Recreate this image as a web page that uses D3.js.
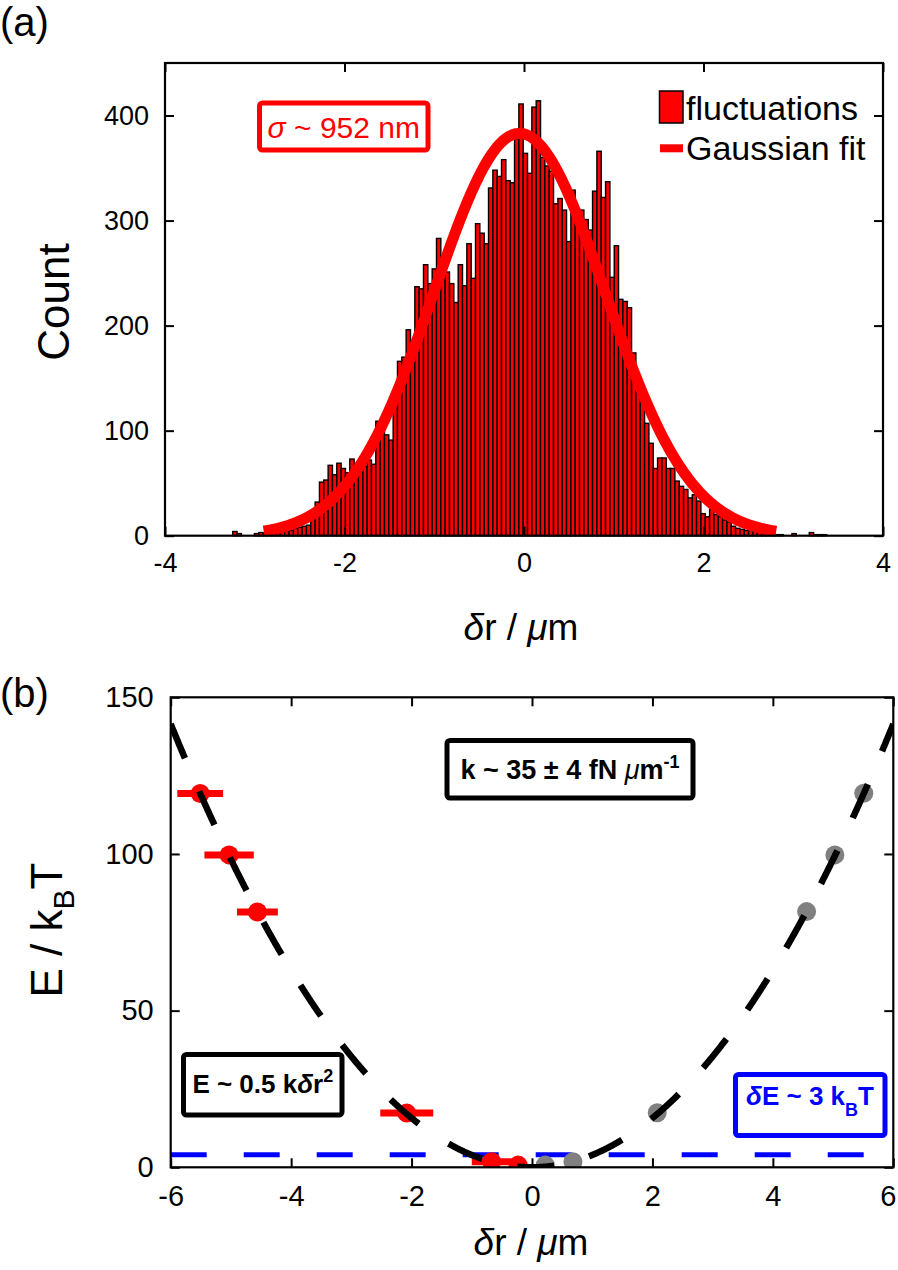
<!DOCTYPE html>
<html><head><meta charset="utf-8">
<script src="https://cdn.jsdelivr.net/npm/d3@7"></script>
<style>
body{margin:0;background:#fff}
svg{display:block}
text{font-family:"Liberation Sans",Arial,Helvetica,sans-serif}
</style>
</head><body>
<svg id="c" width="898" height="1270"></svg>
<script>
// ---------- Panel (a) data ----------
const binStart = -3.39;
const binWidth = 0.0483;
const counts = [0,0,0,4,2,0,0,0,2,3,
  2,3,3,4,4,5,5,7,8,9,
  10,20,32,51,53,67,58,69,64,60,
  73,65,62,66,72,68,109,100,96,91,
  125,166,170,196,180,237,235,258,240,254,
  283,262,251,240,222,258,238,278,245,297,
  288,278,331,348,342,358,338,336,378,411,
  364,345,408,414,360,352,347,316,321,310,
  280,329,300,310,301,291,328,366,322,337,
  246,276,225,223,217,174,150,130,107,88,
  64,74,74,64,64,52,47,44,36,39,
  33,21,18,25,20,18,15,13,9,7,
  6,5,5,4,3,2,2,1,1,1,
  0,0,2,0,0,0,3,1,1,1];
const gaussAmp = 383, gaussMu = -0.05, gaussSigma = 0.952;
const gaussRange = [-2.9, 2.81];
const xTicksA = [-4,-2,0,2,4];
const yTicksA = [0,100,200,300,400];
const legendLabels = ["fluctuations","Gaussian fit"];

// ---------- Panel (b) data ----------
const redX   = [-5.51,-5.03,-4.56,-2.08,-0.67,-0.23];
const redY   = [119.3, 99.7, 81.5, 17.3, 1.8, 0.7];
const redErr = [0.38, 0.41, 0.34, 0.44, 0.33, 0.12];
const grayX  = [0.22, 0.68, 2.08, 4.56, 5.03, 5.51];
const grayY  = [0.7, 1.8, 17.4, 81.6, 99.7, 119.4];
const fitCoef = 3.93;       // E = fitCoef * dr^2
const fitRange = [-6, 6];
const thresholdE = 4;
const xTicksB = [-6,-4,-2,0,2,4,6];
const yTicksB = [0,50,100,150];

const svg = d3.select("#c");
const RED = "#ff0000";

function frame(g, x, y, xt, yt, fs, padX, padY){
  const [x0,x1] = x.range(), [y0,y1] = y.range();
  g.append("g").attr("transform",`translate(0,${y0})`)
    .call(d3.axisBottom(x).tickValues(xt).tickSizeInner(-9).tickSizeOuter(0).tickPadding(padX).tickFormat(d=>String(d)))
    .call(a=>{a.select(".domain").remove();a.selectAll("line").attr("stroke-width",2);a.selectAll("text").attr("font-size",fs).attr("fill","#000");
      // keep the last label inside the page
      a.selectAll(".tick").filter(d=>x(d)>888).select("text").attr("text-anchor","end").attr("x",d=>896-x(d));
    });
  g.append("g").attr("transform",`translate(0,${y1})`)
    .call(d3.axisTop(x).tickValues(xt).tickSizeInner(-9).tickSizeOuter(0).tickFormat(""))
    .call(a=>{a.select(".domain").remove();a.selectAll("line").attr("stroke-width",2);});
  g.append("g").attr("transform",`translate(${x0},0)`)
    .call(d3.axisLeft(y).tickValues(yt).tickSizeInner(-9).tickSizeOuter(0).tickPadding(padY).tickFormat(d=>String(d)))
    .call(a=>{a.select(".domain").remove();a.selectAll("line").attr("stroke-width",2);a.selectAll("text").attr("font-size",fs).attr("fill","#000");});
  g.append("g").attr("transform",`translate(${x1},0)`)
    .call(d3.axisRight(y).tickValues(yt).tickSizeInner(-9).tickSizeOuter(0).tickFormat(""))
    .call(a=>{a.select(".domain").remove();a.selectAll("line").attr("stroke-width",2);});
  g.append("rect").attr("x",x0).attr("y",y1).attr("width",x1-x0).attr("height",y0-y1)
    .attr("fill","none").attr("stroke","#000").attr("stroke-width",2.2);
}

// ================= Panel (a) =================
const xa = d3.scaleLinear().domain([-4,4]).range([165,883]);
const ya = d3.scaleLinear().domain([0,450]).range([535.7,63]);
const ga = svg.append("g");

ga.append("g").selectAll("rect").data(counts.map((c,i)=>({c,i})).filter(d=>d.c>0)).join("rect")
  .attr("x",d=>xa(binStart+d.i*binWidth))
  .attr("width",d=>xa(binStart+(d.i+1)*binWidth)-xa(binStart+d.i*binWidth))
  .attr("y",d=>ya(d.c)).attr("height",d=>ya(0)-ya(d.c))
  .attr("fill",RED).attr("stroke","#000").attr("stroke-width",1.4);

const gx = d3.range(gaussRange[0], gaussRange[1]+1e-9, 0.01);
ga.append("path").datum(gx)
  .attr("d", d3.line().x(v=>xa(v)).y(v=>ya(gaussAmp*Math.exp(-((v-gaussMu)**2)/(2*gaussSigma*gaussSigma)))))
  .attr("fill","none").attr("stroke",RED).attr("stroke-width",11);

// sigma box
ga.append("rect").attr("x",259.5).attr("y",103).attr("width",168.5).attr("height",47).attr("rx",3)
  .attr("fill","#fff").attr("stroke",RED).attr("stroke-width",5);
const st = ga.append("text").attr("x",343.8).attr("y",137.5).attr("text-anchor","middle")
  .attr("font-size",30).attr("fill",RED);
st.append("tspan").attr("font-style","italic").text("σ");
st.append("tspan").text(" ~ 952 nm");

// legend
ga.append("rect").attr("x",659.5).attr("y",91).attr("width",23.5).attr("height",32)
  .attr("fill",RED).attr("stroke","#000").attr("stroke-width",1.5);
ga.append("line").attr("x1",660).attr("x2",683).attr("y1",148.3).attr("y2",148.3)
  .attr("stroke",RED).attr("stroke-width",8);
ga.append("text").attr("x",686).attr("y",119.5).attr("font-size",34).text(legendLabels[0]);
ga.append("text").attr("x",686).attr("y",159.5).attr("font-size",34).text(legendLabels[1]);

frame(ga, xa, ya, xTicksA, yTicksA, 27, 17.5, 16);

// labels
ga.append("text").attr("transform","translate(69,302) rotate(-90)").attr("text-anchor","middle")
  .attr("font-size",44).text("Count");
const xla = ga.append("text").attr("x",521).attr("y",640).attr("text-anchor","middle").attr("font-size",37);
xla.append("tspan").attr("font-style","italic").text("δ");
xla.append("tspan").text("r / ");
xla.append("tspan").attr("font-style","italic").text("μ");
xla.append("tspan").text("m");
svg.append("text").attr("x",0).attr("y",36).attr("font-size",40).text("(a)");

// ================= Panel (b) =================
const xb = d3.scaleLinear().domain([-6,6]).range([170.7,893.3]);
const yb = d3.scaleLinear().domain([0,150]).range([1167.3,697.3]);
const gb = svg.append("g");
const clipId = "clipb";
gb.append("clipPath").attr("id",clipId).append("rect")
  .attr("x",xb(-6)).attr("y",yb(150)).attr("width",xb(6)-xb(-6)).attr("height",yb(0)-yb(150));
const plot = gb.append("g").attr("clip-path",`url(#${clipId})`);

// threshold line
plot.append("line").attr("x1",xb(-6)).attr("x2",xb(6)).attr("y1",yb(thresholdE)).attr("y2",yb(thresholdE))
  .attr("stroke","#0000ff").attr("stroke-width",5).attr("stroke-dasharray","36,37");

// error bars
const redData = redX.map((x,i)=>({x,y:redY[i],e:redErr[i]}));
plot.append("g").selectAll("line").data(redData).join("line")
  .attr("x1",d=>xb(d.x-d.e)).attr("x2",d=>xb(d.x+d.e)).attr("y1",d=>yb(d.y)).attr("y2",d=>yb(d.y))
  .attr("stroke",RED).attr("stroke-width",7);
plot.append("g").selectAll("circle").data(redData).join("circle")
  .attr("cx",d=>xb(d.x)).attr("cy",d=>yb(d.y)).attr("r",9.5).attr("fill",RED);
plot.append("g").selectAll("circle").data(grayX.map((x,i)=>({x,y:grayY[i]}))).join("circle")
  .attr("cx",d=>xb(d.x)).attr("cy",d=>yb(d.y)).attr("r",9.5).attr("fill","#808080");

// fit curve
const fx = d3.range(fitRange[0], fitRange[1]+1e-9, 0.01);
plot.append("path").datum(fx)
  .attr("d", d3.line().x(v=>xb(v)).y(v=>yb(fitCoef*v*v)))
  .attr("fill","none").attr("stroke","#000").attr("stroke-width",6.5).attr("stroke-dasharray","37,36");

// annotation boxes
function box(g, x, y, w, h, color){
  g.append("rect").attr("x",x).attr("y",y).attr("width",w).attr("height",h).attr("rx",3)
    .attr("fill","#fff").attr("stroke",color).attr("stroke-width",5);
}
box(gb, 447, 740.5, 246, 57.5, "#000");
const t1 = gb.append("text").attr("x",570).attr("y",778.5).attr("text-anchor","middle")
  .attr("font-size",27).attr("font-weight","bold");
t1.append("tspan").text("k ~ 35 ± 4 fN ");
t1.append("tspan").attr("font-style","italic").attr("font-weight","normal").text("μ");
t1.append("tspan").text("m");
t1.append("tspan").attr("dy",-11).attr("font-size",18).text("-1");

box(gb, 183.5, 1054.5, 158.5, 60.5, "#000");
const t2 = gb.append("text").attr("x",262.8).attr("y",1093).attr("text-anchor","middle")
  .attr("font-size",26).attr("font-weight","bold");
t2.append("tspan").text("E ~ 0.5 k");
t2.append("tspan").attr("font-style","italic").text("δ");
t2.append("tspan").text("r");
t2.append("tspan").attr("dy",-11).attr("font-size",18).text("2");

box(gb, 735.5, 1074.5, 149.5, 61, "#0000ff");
const t3 = gb.append("text").attr("x",810).attr("y",1105).attr("text-anchor","middle")
  .attr("font-size",26).attr("font-weight","bold").attr("fill","#0000ff");
t3.append("tspan").attr("font-style","italic").text("δ");
t3.append("tspan").text("E ~ 3 k");
t3.append("tspan").attr("dy",11).attr("font-size",18).text("B");
t3.append("tspan").attr("dy",-11).text("T");

frame(gb, xb, yb, xTicksB, yTicksB, 29, 18.5, 17);

const yl = gb.append("text").attr("transform","translate(62,930) rotate(-90)").attr("text-anchor","middle")
  .attr("font-size",44);
yl.append("tspan").text("E / k");
yl.append("tspan").attr("dy",12).attr("font-size",30).text("B");
yl.append("tspan").attr("dy",-12).text("T");
const xlb = gb.append("text").attr("x",531).attr("y",1255).attr("text-anchor","middle").attr("font-size",37);
xlb.append("tspan").attr("font-style","italic").text("δ");
xlb.append("tspan").text("r / ");
xlb.append("tspan").attr("font-style","italic").text("μ");
xlb.append("tspan").text("m");
svg.append("text").attr("x",0).attr("y",707).attr("font-size",40).text("(b)");
</script>
</body></html>
